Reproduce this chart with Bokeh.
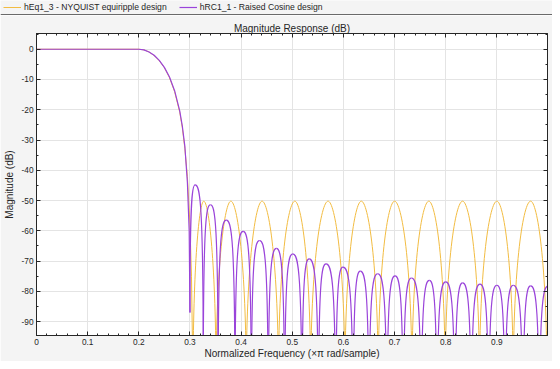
import numpy as np
from bokeh.plotting import figure
from bokeh.layouts import column
from bokeh.models import (Range1d, LinearAxis, FixedTicker, Legend, LegendItem, ColumnDataSource, Span)
from bokeh.embed import file_html
from bokeh.resources import INLINE

# ---------------- data ----------------
series_names = ["hEq1_3 - NYQUIST equiripple design", "hRC1_1 - Raised Cosine design"]
series_colors = ["#F2BC42", "#9A44DA"]

# passband + transition band
eq_trans_freq = [0.0, 0.2, 0.21, 0.22, 0.23, 0.24, 0.25, 0.26, 0.27, 0.28, 0.285, 0.29, 0.295, 0.300, 0.303, 0.306]
eq_trans_db = [0.0, 0.0, -0.2, -0.9, -2.1, -3.8, -6.1, -9.4, -14.0, -20.8, -25.8, -32.8, -42.0, -58.0, -75.0, -110.0]
rc_trans_freq = [0.0, 0.2, 0.21, 0.22, 0.23, 0.24, 0.25, 0.26, 0.27, 0.28, 0.285, 0.29, 0.295, 0.2985, 0.300]
rc_trans_db = [0.0, 0.0, -0.2, -0.9, -2.0, -3.7, -6.0, -9.2, -13.7, -20.4, -25.3, -32.0, -44.0, -60.0, -87.0]

# stopband lobes: null frequencies, lobe peak frequencies and peak levels
eq_null_freq = [0.306, 0.351, 0.410, 0.473, 0.536, 0.603, 0.668, 0.734, 0.799, 0.866, 0.932, 0.998]
eq_peak_freq = [0.327, 0.380, 0.441, 0.505, 0.570, 0.635, 0.700, 0.767, 0.833, 0.900, 0.966]
eq_peak_db = [-50.2, -50.2, -50.2, -50.2, -50.2, -50.2, -50.2, -50.2, -50.2, -50.2, -50.2]

rc_null_freq = [0.300, 0.326, 0.355, 0.388, 0.420, 0.453, 0.485, 0.519, 0.551, 0.585, 0.619,
                0.650, 0.685, 0.717, 0.752, 0.783, 0.818, 0.850, 0.884, 0.916, 0.951, 0.983]
rc_peak_freq = [0.310, 0.340, 0.371, 0.404, 0.436, 0.469, 0.501, 0.533, 0.566, 0.599, 0.633,
                0.667, 0.701, 0.733, 0.768, 0.800, 0.833, 0.867, 0.900, 0.932, 0.966, 1.000]
rc_peak_db = [-44.8, -51.4, -56.5, -60.2, -63.2, -65.8, -67.6, -69.3, -70.9, -72.0, -73.3,
              -74.2, -74.9, -75.6, -76.4, -76.9, -77.2, -77.6, -78.0, -78.0, -78.2, -78.3]

x_tick_values = [0.0, 0.1, 0.2, 0.3, 0.4, 0.5, 0.6, 0.7, 0.8, 0.9]
x_tick_labels = ["0", "0.1", "0.2", "0.3", "0.4", "0.5", "0.6", "0.7", "0.8", "0.9"]
y_tick_values = [0, -10, -20, -30, -40, -50, -60, -70, -80, -90]
y_tick_labels = ["0", "-10", "-20", "-30", "-40", "-50", "-60", "-70", "-80", "-90"]

title_text = "Magnitude Response (dB)"
x_label = "Normalized Frequency (\u00d7\u03c0 rad/sample)"
y_label = "Magnitude (dB)"

# ---------------- lobe curves drawn as bezier halves ----------------
def lobe_segments(null_f, peak_f, peak_db, first_bottom=None, depth=60.0, r0=0.0, k=0.3):
    s = dict(x0=[], y0=[], x1=[], y1=[], cx0=[], cy0=[], cx1=[], cy1=[])
    keys = ["x0", "y0", "x1", "y1", "cx0", "cy0", "cx1", "cy1"]

    def add(*vals):
        for key, v in zip(keys, vals):
            s[key].append(v)

    for i, (pf, pdb) in enumerate(zip(peak_f, peak_db)):
        a = null_f[i]
        bot = pdb - depth
        a_bot = first_bottom if (i == 0 and first_bottom is not None) else bot
        add(a, a_bot, pf, pdb, a, pdb - r0, pf - k * (pf - a), pdb)
        if i + 1 < len(null_f):
            b = null_f[i + 1]
            add(pf, pdb, b, bot, pf + k * (b - pf), pdb, b, pdb - r0)
    return ColumnDataSource(s)

eq_lobes = lobe_segments(eq_null_freq, eq_peak_freq, eq_peak_db, r0=20.0, k=0.4)
rc_lobes = lobe_segments(rc_null_freq, rc_peak_freq, rc_peak_db, first_bottom=rc_trans_db[-1],
                         r0=5.0, k=0.6)

FONT = "Liberation Sans"
TXT = "#262626"
BG = "#f4f4f4"
W = 552
HEAD_H = 15
lw_eq, lw_rc = 1.0, 1.2

# ---------------- header strip: legend + separator ----------------
# the header's x range lies outside the data, so only the legend of the series shows here
head = figure(width=W, height=HEAD_H, output_backend="svg", toolbar_location=None,
              x_range=Range1d(5, 6), y_range=Range1d(0, HEAD_H),
              x_axis_type=None, y_axis_type=None,
              min_border_left=0, min_border_right=0, min_border_top=0, min_border_bottom=0,
              background_fill_color=BG, border_fill_color=BG, outline_line_color=None)
head.frame_align = False
h_eq = head.line(eq_trans_freq, eq_trans_db, line_color=series_colors[0], line_width=lw_eq)
h_rc = head.line(rc_trans_freq, rc_trans_db, line_color=series_colors[1], line_width=lw_rc)
legend = Legend(items=[LegendItem(label=series_names[0], renderers=[h_eq]),
                       LegendItem(label=series_names[1], renderers=[h_rc])],
                orientation="horizontal", location=(3, 3), padding=0, margin=0,
                spacing=12, glyph_width=18, glyph_height=10, label_height=10,
                label_standoff=3, label_text_font=FONT, label_text_font_size="8.6px",
                label_text_color=TXT, background_fill_alpha=0, border_line_color=None)
head.add_layout(legend, "center")
head.add_layout(Span(location=1, dimension="width", line_color="#6a6a6a", line_width=1))

# ---------------- main plot ----------------
p = figure(width=W, height=361 - HEAD_H, output_backend="svg", toolbar_location=None,
           x_range=Range1d(0, 0.999), y_range=Range1d(-94.6, 5.2),
           min_border_left=35, min_border_right=5, min_border_top=18, min_border_bottom=24,
           background_fill_color="white", border_fill_color=BG,
           outline_line_color=TXT, outline_line_width=1)
p.frame_align = False

p.title.text = title_text
p.title.align = "center"
p.title.text_font = FONT
p.title.text_font_size = "10px"
p.title.text_font_style = "normal"
p.title.text_color = TXT
p.title.standoff = 0

xt = FixedTicker(ticks=x_tick_values, minor_ticks=list(np.round(np.arange(0, 1.0, 0.02), 3)))
yt = FixedTicker(ticks=y_tick_values, minor_ticks=list(range(-95, 6, 5)))

def style_axis(ax, ticker, overrides, font_size):
    ax.ticker = ticker
    ax.major_label_overrides = overrides
    ax.major_tick_in = 4
    ax.major_tick_out = 0
    ax.minor_tick_in = 2
    ax.minor_tick_out = 0
    ax.major_tick_line_color = TXT
    ax.minor_tick_line_color = TXT
    ax.axis_line_color = TXT
    ax.major_label_text_font = FONT
    ax.major_label_text_color = TXT
    ax.major_label_text_font_size = font_size

x_over = {v: l for v, l in zip(x_tick_values, x_tick_labels)}
y_over = {v: l for v, l in zip(y_tick_values, y_tick_labels)}

style_axis(p.xaxis[0], xt, x_over, "8.3px")
style_axis(p.yaxis[0], yt, y_over, "8.3px")
p.xaxis[0].major_label_standoff = 3
p.yaxis[0].major_label_standoff = 3
p.xaxis[0].axis_label = x_label
p.yaxis[0].axis_label = y_label
for ax in (p.xaxis[0], p.yaxis[0]):
    ax.axis_label_text_font = FONT
    ax.axis_label_text_font_size = "10px"
    ax.axis_label_text_font_style = "normal"
    ax.axis_label_text_color = TXT
p.xaxis[0].axis_label_standoff = 0
p.yaxis[0].axis_label_standoff = 4

# tick marks on the top and right edges of the box (no labels)
top_ax = LinearAxis()
style_axis(top_ax, xt, {v: "" for v in x_tick_values}, "1px")
top_ax.major_label_standoff = 0
p.add_layout(top_ax, "above")
right_ax = LinearAxis()
style_axis(right_ax, yt, {v: "" for v in y_tick_values}, "1px")
right_ax.major_label_standoff = 0
p.add_layout(right_ax, "right")

p.xgrid.ticker = xt
p.ygrid.ticker = yt
p.xgrid.grid_line_color = "#e4e4e4"
p.ygrid.grid_line_color = "#e4e4e4"

# curves
p.line(eq_trans_freq, eq_trans_db, line_color=series_colors[0], line_width=lw_eq)
p.bezier(x0="x0", y0="y0", x1="x1", y1="y1", cx0="cx0", cy0="cy0", cx1="cx1", cy1="cy1",
         source=eq_lobes, line_color=series_colors[0], line_width=lw_eq)
p.line(rc_trans_freq, rc_trans_db, line_color=series_colors[1], line_width=lw_rc)
p.bezier(x0="x0", y0="y0", x1="x1", y1="y1", cx0="cx0", cy0="cy0", cx1="cx1", cy1="cy1",
         source=rc_lobes, line_color=series_colors[1], line_width=lw_rc)

layout = column(head, p, spacing=0)
open("out.html", "w").write(file_html(layout, INLINE))
